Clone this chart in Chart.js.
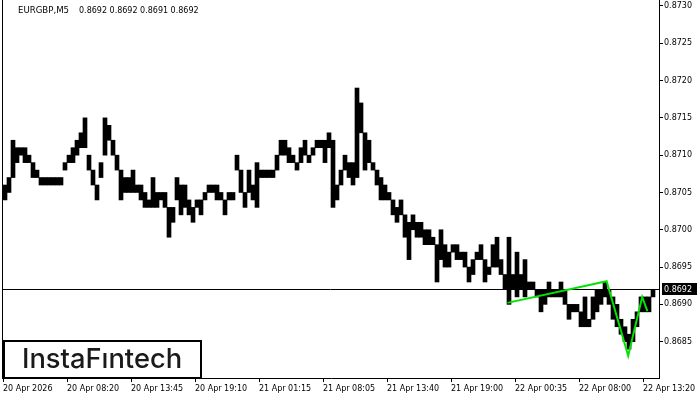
<!DOCTYPE html>
<html>
<head>
<meta charset="utf-8">
<script src="https://cdn.jsdelivr.net/npm/chart.js@4.4.1/dist/chart.umd.min.js"></script>
<style>
  html, body { margin: 0; padding: 0; background: #fff; }
  canvas { display: block; }
</style>
</head>
<body>
<canvas id="priceChart" width="700" height="400"></canvas>
<script>
// EURGBP M5, each bar here = 4 px of the original chart (low / high)
const barLow = [
  0.8704, 0.8705, 0.8707, 0.8709, 0.8710, 0.8709, 0.8709, 0.8707, 0.8707, 0.8706,
  0.8706, 0.8706, 0.8706, 0.8706, 0.8706, 0.8708, 0.8709, 0.8709, 0.8710, 0.8711,
  0.8711, 0.8708, 0.8706, 0.8704, 0.8707, 0.8710, 0.8712, 0.8710, 0.8708, 0.8704,
  0.8705, 0.8705, 0.8705, 0.8705, 0.8704, 0.8703, 0.8703, 0.8703, 0.8703, 0.8704,
  0.8703, 0.8699, 0.8701, 0.8704, 0.8702, 0.8703, 0.8702, 0.8701, 0.8703, 0.8702,
  0.8704, 0.8705, 0.8705, 0.8704, 0.8704, 0.8702, 0.8704, 0.8704, 0.8708, 0.8705,
  0.8703, 0.8705, 0.8704, 0.8703, 0.8707, 0.8707, 0.8707, 0.8707, 0.8708, 0.8710,
  0.8710, 0.8709, 0.8709, 0.8708, 0.8709, 0.8710, 0.8709, 0.8710, 0.8711, 0.8711,
  0.8709, 0.8711, 0.8703, 0.8704, 0.8706, 0.8708, 0.8707, 0.8706, 0.8707, 0.8713,
  0.8708, 0.8709, 0.8708, 0.8706, 0.8704, 0.8704, 0.8704, 0.8702, 0.8701, 0.8702,
  0.8699, 0.8696, 0.8700, 0.8699, 0.8699, 0.8698, 0.8698, 0.8698, 0.8693, 0.8696,
  0.8695, 0.8695, 0.8697, 0.8696, 0.8696, 0.8695, 0.8693, 0.8694, 0.8696, 0.8696,
  0.8693, 0.8694, 0.8695, 0.8695, 0.8694, 0.8692, 0.8690, 0.8692, 0.8691, 0.8692,
  0.8691, 0.8692, 0.8692, 0.8691, 0.8689, 0.8690, 0.8691, 0.8691, 0.8691, 0.8691,
  0.8690, 0.8688, 0.8689, 0.8689, 0.8687, 0.8687, 0.8687, 0.8688, 0.8689, 0.8690,
  0.8691, 0.8690, 0.8688, 0.8687, 0.8686, 0.8685, 0.8684, 0.8685, 0.8687, 0.8689,
  0.8689, 0.8689, 0.8691
];
const barHigh = [
  0.8706, 0.8707, 0.8712, 0.8711, 0.8711, 0.8711, 0.8710, 0.8709, 0.8708, 0.8707,
  0.8707, 0.8707, 0.8707, 0.8707, 0.8707, 0.8709, 0.8710, 0.8711, 0.8712, 0.8713,
  0.8715, 0.8710, 0.8708, 0.8706, 0.8709, 0.8715, 0.8714, 0.8712, 0.8710, 0.8708,
  0.8707, 0.8707, 0.8708, 0.8706, 0.8706, 0.8705, 0.8704, 0.8707, 0.8705, 0.8705,
  0.8705, 0.8703, 0.8703, 0.8707, 0.8706, 0.8706, 0.8704, 0.8703, 0.8704, 0.8704,
  0.8705, 0.8706, 0.8706, 0.8706, 0.8705, 0.8704, 0.8705, 0.8705, 0.8710, 0.8708,
  0.8705, 0.8708, 0.8706, 0.8709, 0.8708, 0.8708, 0.8708, 0.8708, 0.8710, 0.8712,
  0.8712, 0.8711, 0.8710, 0.8709, 0.8711, 0.8712, 0.8710, 0.8711, 0.8712, 0.8712,
  0.8712, 0.8713, 0.8712, 0.8706, 0.8708, 0.8710, 0.8709, 0.8709, 0.8719, 0.8717,
  0.8713, 0.8712, 0.8709, 0.8708, 0.8707, 0.8706, 0.8705, 0.8704, 0.8703, 0.8704,
  0.8702, 0.8701, 0.8702, 0.8701, 0.8701, 0.8700, 0.8700, 0.8699, 0.8698, 0.8700,
  0.8698, 0.8697, 0.8698, 0.8698, 0.8697, 0.8697, 0.8695, 0.8696, 0.8697, 0.8698,
  0.8696, 0.8695, 0.8698, 0.8699, 0.8696, 0.8694, 0.8699, 0.8694, 0.8697, 0.8694,
  0.8696, 0.8693, 0.8693, 0.8692, 0.8692, 0.8692, 0.8693, 0.8692, 0.8692, 0.8693,
  0.8692, 0.8690, 0.8690, 0.8690, 0.8689, 0.8691, 0.8688, 0.8691, 0.8692, 0.8692,
  0.8693, 0.8692, 0.8691, 0.8690, 0.8688, 0.8687, 0.8686, 0.8688, 0.8689, 0.8691,
  0.8691, 0.8691, 0.8692
];

// inverse head & shoulders pattern (bar position, price)
const patternBar = [125.6, 150.4, 155.8, 159.3, 160.6];
const patternPrice = [0.86902, 0.86931, 0.86831, 0.86910, 0.86891];

// time axis labels and the bar where each one sits
const timeLabels = ['20 Apr 2026', '20 Apr 08:20', '20 Apr 13:45', '20 Apr 19:10', '21 Apr 01:15',
  '21 Apr 08:05', '21 Apr 13:40', '21 Apr 19:00', '22 Apr 00:35', '22 Apr 08:00', '22 Apr 13:20'];
const timeTickBar = [0, 16, 32, 48, 64, 80, 96, 112, 128, 144, 160];

// price axis ticks
const priceTicks = [0.8685, 0.8690, 0.8695, 0.8700, 0.8705, 0.8710, 0.8715, 0.8720, 0.8725, 0.8730];

const symbolName = 'EURGBP,M5';
const lastQuote = ['0.8692', '0.8692', '0.8691', '0.8692'];
const bidPrice = 0.8692;

const axisFont = '8px "DejaVu Sans"';

// extra drawing: bid line, frame, title, time labels, price tag, logo
const overlayPlugin = {
  id: 'overlay',
  beforeDatasetsDraw(chart) {
    const ctx = chart.ctx;
    const area = chart.chartArea;
    const y = Math.round(chart.scales.y.getPixelForValue(bidPrice)) + 0.5;
    ctx.save();
    ctx.strokeStyle = '#000';
    ctx.lineWidth = 1;
    ctx.beginPath();
    ctx.moveTo(area.left - 1, y);
    ctx.lineTo(area.right, y);
    ctx.stroke();
    ctx.restore();
  },
  afterDraw(chart) {
    const ctx = chart.ctx;
    const area = chart.chartArea;
    const xs = chart.scales.x;
    const ys = chart.scales.y;
    ctx.save();

    // left frame line
    ctx.strokeStyle = '#000';
    ctx.lineWidth = 1;
    ctx.beginPath();
    ctx.moveTo(area.left - 0.5, 0);
    ctx.lineTo(area.left - 0.5, area.bottom + 1);
    ctx.stroke();

    // title
    ctx.fillStyle = '#000';
    ctx.textBaseline = 'middle';
    ctx.textAlign = 'left';
    ctx.font = '8.6px "DejaVu Sans"';
    ctx.fillText(symbolName, 18, 11);
    ctx.font = axisFont;
    ctx.fillText(lastQuote.join(' '), 79, 11);

    // time labels
    ctx.font = axisFont;
    for (let k = 0; k < timeLabels.length; k++) {
      const px = xs.getPixelForValue(timeTickBar[k] - 0.5);
      ctx.fillText(timeLabels[k], Math.round(px), 389);
    }

    // bid price tag
    const by = Math.round(ys.getPixelForValue(bidPrice));
    ctx.fillStyle = '#000';
    ctx.fillRect(area.right + 3, by - 6, 35, 12);
    ctx.fillStyle = '#fff';
    ctx.fillText(bidPrice.toFixed(4), area.right + 5, by + 0.5);

    // logo box
    ctx.fillStyle = '#fff';
    ctx.fillRect(3, 340, 198, 38);
    ctx.strokeStyle = '#000';
    ctx.lineWidth = 2;
    ctx.strokeRect(4, 341, 197, 37);
    ctx.fillStyle = '#1a1a1a';
    ctx.textBaseline = 'alphabetic';
    const logo = 'InstaFıntech';
    let size = 25;
    ctx.font = '500 ' + size + 'px Inter';
    size = size * 160 / ctx.measureText(logo).width;
    ctx.font = '500 ' + size.toFixed(1) + 'px Inter';
    ctx.fillText(logo, 22, 368);

    ctx.restore();
  }
};

const barData = barLow.map((low, i) => ({ x: i, y: [low, barHigh[i]] }));
const patternData = patternBar.map((b, i) => ({ x: b, y: patternPrice[i] }));

const chart = new Chart(document.getElementById('priceChart').getContext('2d'), {
  type: 'bar',
  data: {
    datasets: [
      {
        type: 'line',
        data: patternData,
        borderColor: '#00e400',
        borderWidth: 2,
        pointRadius: 0,
        tension: 0,
        order: 0
      },
      {
        type: 'bar',
        data: barData,
        backgroundColor: '#000',
        borderWidth: 0,
        barPercentage: 1,
        categoryPercentage: 1,
        order: 1
      }
    ]
  },
  options: {
    responsive: false,
    animation: false,
    devicePixelRatio: 1,
    layout: { padding: { left: 3, top: 0, right: 0, bottom: 0 } },
    plugins: {
      legend: { display: false },
      tooltip: { enabled: false }
    },
    scales: {
      x: {
        type: 'linear',
        position: 'bottom',
        offset: false,
        min: -0.5,
        max: barLow.length + 0.5,
        afterBuildTicks: (s) => { s.ticks = timeTickBar.map(v => ({ value: v - 0.5 })); },
        ticks: { display: false },
        grid: { offset: false, drawOnChartArea: false, drawTicks: true, tickLength: 4, color: '#000' },
        border: { display: true, color: '#000', width: 1 },
        afterFit: (s) => { s.height = 22; s.paddingLeft = 0; s.paddingRight = 0; }
      },
      y: {
        type: 'linear',
        position: 'right',
        min: 0.868013,
        max: 0.87308,
        afterBuildTicks: (s) => { s.ticks = priceTicks.map(v => ({ value: v })); },
        ticks: {
          callback: (v) => Number(v).toFixed(4),
          font: { family: 'DejaVu Sans', size: 8 },
          color: '#000',
          padding: 1,
          autoSkip: false
        },
        grid: { drawOnChartArea: false, drawTicks: true, tickLength: 4, color: '#000' },
        border: { display: true, color: '#000', width: 1 },
        afterFit: (s) => { s.width = 41; s.paddingTop = 0; s.paddingBottom = 0; }
      }
    }
  },
  plugins: [overlayPlugin]
});
</script>
</body>
</html>
